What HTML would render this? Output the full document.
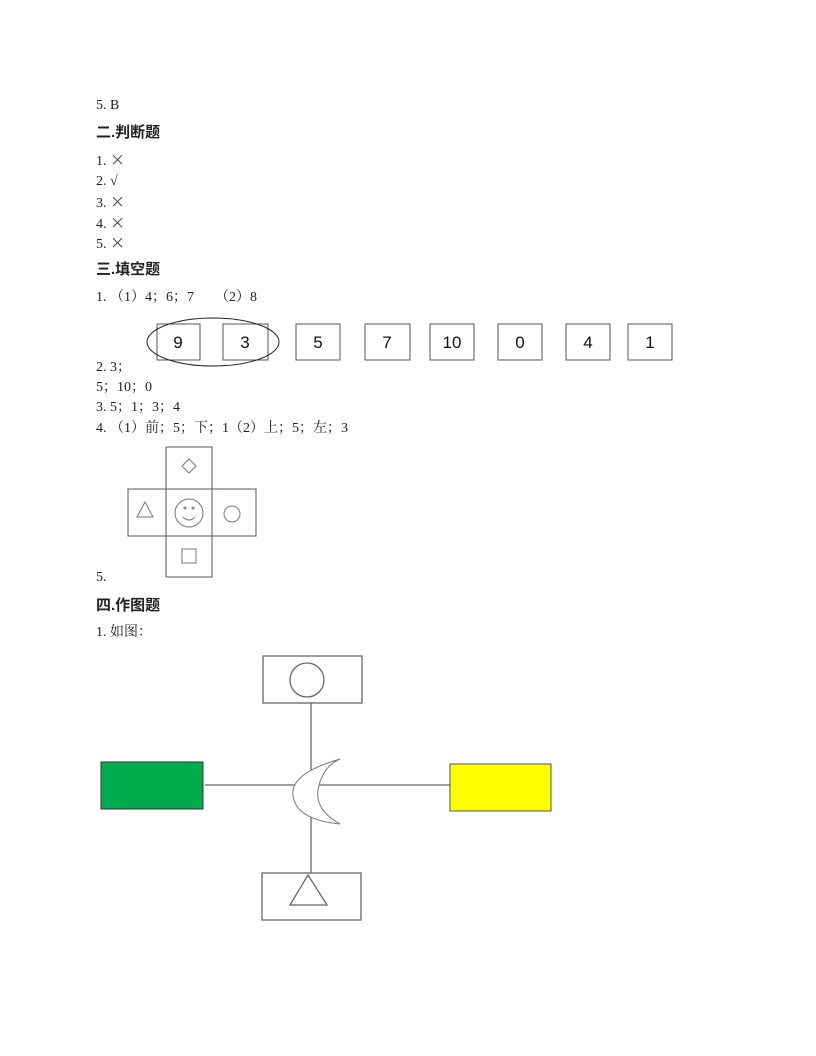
<!DOCTYPE html>
<html><head><meta charset="utf-8"><style>
body{margin:0;background:#fff;}
.p{position:relative;width:816px;height:1056px;font-family:"Liberation Serif","Noto Serif CJK SC",serif;font-size:14px;color:#222;}
.t{position:absolute;left:96px;white-space:nowrap;line-height:16px;}
.b{font-family:"Liberation Sans","Noto Sans CJK SC",sans-serif;font-weight:bold;font-size:15px;}
.x{font-family:"Noto Sans CJK SC",sans-serif;font-size:15px;color:#444;}
</style></head><body><div class="p">
<div class="t" style="top:98px">5. B</div>
<div class="t b" style="top:125px">二.判断题</div>
<div class="t" style="top:152px">1. <span class="x">×</span></div>
<div class="t" style="top:174px">2. √</div>
<div class="t" style="top:194px">3. <span class="x">×</span></div>
<div class="t" style="top:215px">4. <span class="x">×</span></div>
<div class="t" style="top:235px">5. <span class="x">×</span></div>
<div class="t b" style="top:262px">三.填空题</div>
<div class="t" style="top:290px">1. （1）4；6；7 &nbsp;&nbsp;&nbsp;&nbsp;&nbsp;（2）8</div>
<div class="t" style="top:360px">2. 3；</div>
<div class="t" style="top:380px">5；10；0</div>
<div class="t" style="top:400px">3. 5；1；3；4</div>
<div class="t" style="top:421px">4. （1）前；5；下；1（2）上；5；左；3</div>
<div class="t" style="top:570px">5.</div>
<div class="t b" style="top:598px">四.作图题</div>
<div class="t" style="top:625px">1. 如图：</div>
<svg width="816" height="1056" style="position:absolute;left:0;top:0" font-family="Liberation Sans, sans-serif" font-size="17">
<g fill="#fff" stroke="#555" stroke-width="1">
<rect x="157" y="324" width="43" height="36"/><rect x="223" y="324" width="45" height="36"/>
<rect x="296" y="324" width="44" height="36"/><rect x="365" y="324" width="45" height="36"/>
<rect x="430" y="324" width="44" height="36"/><rect x="498" y="324" width="44" height="36"/>
<rect x="566" y="324" width="44" height="36"/><rect x="628" y="324" width="44" height="36"/>
</g>
<ellipse cx="213" cy="342" rx="66" ry="24" fill="none" stroke="#222"/>
<g fill="#111" text-anchor="middle">
<text x="178" y="348">9</text><text x="245" y="348">3</text><text x="318" y="348">5</text><text x="387" y="348">7</text>
<text x="452" y="348">10</text><text x="520" y="348">0</text><text x="588" y="348">4</text><text x="650" y="348">1</text>
</g>
<g fill="none" stroke="#556" stroke-width="1">
<rect x="166" y="447" width="46" height="42"/>
<rect x="128" y="489" width="128" height="47"/>
<line x1="166" y1="489" x2="166" y2="536"/><line x1="212" y1="489" x2="212" y2="536"/>
<rect x="166" y="536" width="46" height="41"/>
</g>
<g fill="none" stroke="#777" stroke-width="1">
<polygon points="189,459 196,466 189,473 182,466"/>
<polygon points="145,502 153,517 137,517"/>
<circle cx="189" cy="513" r="14"/><circle cx="185" cy="508" r="1"/><circle cx="193" cy="508" r="1"/>
<path d="M183,517 Q189,523 195,517"/>
<circle cx="232" cy="514" r="8"/>
<rect x="182" y="549" width="14" height="14"/>
</g>
<g stroke="#666" stroke-width="1.3" fill="none">
<line x1="311" y1="703" x2="311" y2="873"/>
<line x1="205" y1="785" x2="450" y2="785"/>
<rect x="263" y="656" width="99" height="47"/>
<circle cx="307" cy="680" r="17"/>
<rect x="262" y="873" width="99" height="47"/>
<polygon points="308,875 327,905 290,905"/>
</g>
<path d="M340,759 Q285,775 294,800 Q300,820 340,824 Q315,810 318,790 Q322,767 340,759 Z" fill="#fff" stroke="#777" stroke-width="1"/>
<rect x="101" y="762" width="102" height="47" fill="#00ab4e" stroke="#333"/>
<rect x="450" y="764" width="101" height="47" fill="#ffff00" stroke="#555"/>
</svg>
</div></body></html>
